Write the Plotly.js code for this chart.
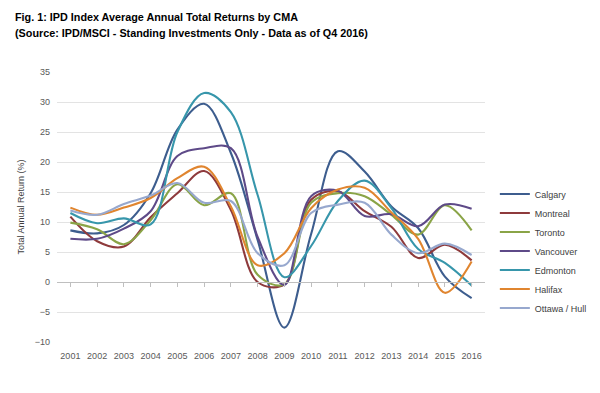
<!DOCTYPE html>
<html>
<head>
<meta charset="utf-8">
<script src="https://cdn.plot.ly/plotly-3.0.1.min.js"></script>
<style>
html,body{margin:0;padding:0;background:#fff;}
#chart{width:600px;height:393px;}
</style>
</head>
<body>
<div id="chart"></div>
<script>
const years = [2001,2002,2003,2004,2005,2006,2007,2008,2009,2010,2011,2012,2013,2014,2015,2016];
const seriesNames = ["Calgary","Montreal","Toronto","Vancouver","Edmonton","Halifax","Ottawa / Hull"];
const calgary   = [8.6, 8.1, 9.5, 14.8, 25.4, 29.7, 21.5, 7.0, -7.6, 8.0, 21.8, 18.4, 12.6, 9.0, 0.9, -2.7];
const montreal  = [10.9, 6.8, 5.9, 10.8, 14.8, 18.5, 12.0, 0.0, -0.4, 13.7, 15.1, 11.8, 9.2, 4.0, 6.2, 3.6];
const toronto   = [9.9, 8.8, 6.3, 10.3, 16.3, 12.8, 14.8, 1.2, -0.4, 13.2, 14.8, 14.3, 11.2, 7.9, 12.8, 8.6];
const vancouver = [7.2, 7.2, 8.9, 11.8, 21.0, 22.3, 22.3, 7.5, -0.5, 14.3, 15.2, 11.0, 11.3, 9.3, 12.9, 12.2];
const edmonton  = [11.5, 9.8, 10.6, 9.6, 25.0, 31.5, 28.3, 14.5, 0.8, 6.0, 13.5, 16.9, 12.3, 5.5, 3.2, -0.6];
const halifax   = [12.4, 11.2, 12.4, 14.0, 17.3, 19.2, 12.6, 2.8, 4.8, 12.3, 15.4, 15.7, 11.6, 7.2, -1.8, 3.4];
const ottawa    = [11.9, 11.2, 13.0, 14.4, 16.5, 13.2, 13.5, 4.8, 2.8, 11.5, 12.9, 13.2, 7.9, 4.8, 6.4, 4.5];
const yTicks = [-10,-5,0,5,10,15,20,25,30,35];
const titleLines = [
  "Fig. 1: IPD Index Average Annual Total Returns by CMA",
  "(Source: IPD/MSCI - Standing Investments Only - Data as of Q4 2016)"
];

const allSeries = [calgary, montreal, toronto, vancouver, edmonton, halifax, ottawa];
const colors = ["#3D5D8E","#8E3A3C","#8AA447","#5E4A88","#3796AB","#E0852F","#97A8CE"];

const traces = allSeries.map((vals, i) => ({
  x: years, y: vals, name: seriesNames[i], type: "scatter", mode: "lines",
  line: {color: colors[i], width: 2.1, shape: "spline", smoothing: 1},
  xaxis: "x", yaxis: "y"
}));
// helper trace so the axis drawn at y = 0 exists
traces.push({x: years, y: years.map(() => null), xaxis: "x2", yaxis: "y", showlegend: false, hoverinfo: "skip", mode: "lines"});

const fam = "Liberation Sans Narrow, Arial Narrow, Liberation Sans, Arial, sans-serif";
const tickFont = {family: fam, size: 9, color: "#595959"};

const W = 600, H = 393, L = 57, R = 115, T = 72, B = 51;
const pw = W - L - R, ph = H - T - B;

const layout = {
  width: W, height: H,
  margin: {l: L, r: R, t: T, b: B, autoexpand: false},
  paper_bgcolor: "#fff", plot_bgcolor: "#fff",
  annotations: titleLines.map((t, i) => ({
    text: "<b>" + t + "</b>", showarrow: false,
    xref: "paper", x: (13 - L) / pw, xanchor: "left",
    yref: "paper", y: 1 + (T - (17 + 16 * i)) / ph, yanchor: "middle",
    font: {family: fam, size: 10.8, color: "#000"}
  })),
  xaxis: {
    range: [2000.5, 2016.5], tickvals: years, ticktext: years.map(String),
    showgrid: false, zeroline: false, showline: false, ticks: "",
    tickfont: tickFont, ticklabelstandoff: 7, automargin: false
  },
  xaxis2: {
    matches: "x", overlaying: "x", anchor: "free", position: 10/45,
    showline: true, linecolor: "#BFBFBF", linewidth: 1,
    ticks: "outside", ticklen: 4, tickcolor: "#BFBFBF", tickvals: years,
    showticklabels: false, showgrid: false, zeroline: false
  },
  yaxis: {
    range: [-10, 35], tickvals: yTicks, showgrid: true, gridcolor: "#E3E3E3", gridwidth: 1,
    zeroline: false, showline: false, ticks: "", tickfont: tickFont, ticklabelstandoff: 6,
    automargin: false,
    title: {text: "Total Annual Return (%)", font: {family: fam, size: 9, color: "#404040"}, standoff: 8}
  },
  legend: {
    x: 1.023, xanchor: "left", y: 0.337, yanchor: "middle",
    font: {family: fam, size: 9, color: "#404040"},
    itemwidth: 30, tracegroupgap: 0, bgcolor: "rgba(0,0,0,0)"
  },
  showlegend: true
};

Plotly.newPlot("chart", traces, layout, {displayModeBar: false, staticPlot: true});
</script>
</body>
</html>
